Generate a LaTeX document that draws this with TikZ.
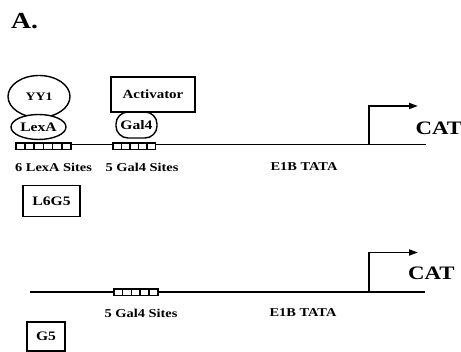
\documentclass[tikz,border=0pt]{standalone}
\usepackage{fontspec}
\setmainfont[FakeStretch=1.2]{Liberation Serif}
\usetikzlibrary{arrows.meta,shapes.geometric}
\begin{document}
\begin{tikzpicture}[x=1pt,y=-1pt,
  dna/.style={line width=1.8pt},
  sitebox/.style={draw,line width=1.5pt,fill=white,minimum height=6.5pt,inner sep=0pt},
  lbl/.style={font=\bfseries\fontsize{12}{14}\selectfont,inner sep=0pt},
  bigl/.style={font=\bfseries\fontsize{19}{22}\selectfont,inner sep=0pt},
  prot/.style={draw,line width=1.4pt,fill=white,inner sep=0pt},
  protl/.style={font=\bfseries\fontsize{13}{15}\selectfont,inner sep=0pt},
  promo/.style={line width=1.8pt,-{Triangle[length=9pt,width=6pt]}},
  namebox/.style={draw,line width=1.4pt,font=\bfseries\fontsize{13}{15}\selectfont,inner sep=0pt}]
\useasboundingbox (0,0) rectangle (461,352);
\node[font=\bfseries\fontsize{23}{26}\selectfont,anchor=west,inner sep=0pt] (title) at (11,21) {A.};
% construct 1
\coordinate (l1s) at (15,144.5);
\coordinate (l1e) at (426,144.5);
\draw[dna] (l1s) -- (l1e);
\foreach \i in {0,...,5}{
  \node[sitebox,minimum width=9.2pt,anchor=west] (lx\i) at ({15+9.2*\i},146.5) {};
}
\foreach \i in {0,...,4}{
  \node[sitebox,minimum width=8.5pt,anchor=west] (ga\i) at ({112+8.5*\i},146.5) {};
}
\node[prot,ellipse,minimum width=62pt,minimum height=42pt] (yy1) at (39,96.5) {};
\node[protl,font=\bfseries\fontsize{11.5}{13}\selectfont] at (yy1) {YY1};
\node[prot,ellipse,minimum width=55pt,minimum height=25pt,protl] (lexa) at (38.5,127) {LexA};
\node[prot,rectangle,rounded corners=12pt,minimum width=41pt,minimum height=26pt,protl] (gal4) at (136.5,125) {Gal4};
\node[prot,rectangle,minimum width=84pt,minimum height=35pt,font=\bfseries\fontsize{12.5}{14}\selectfont] (act) at (153,94.5) {Activator};
\coordinate (p1) at (369,144.5);
\coordinate (t1) at (418,106);
\draw[promo] (p1) |- (t1);
\node[bigl,anchor=west] (cat1) at (415.5,128) {CAT};
\node[lbl] (s1) at (53.5,167) {6 LexA Sites};
\node[lbl] (s2) at (142,167) {5 Gal4 Sites};
\node[lbl] (tata1) at (304,167) {E1B TATA};
\node[namebox,minimum width=57pt,minimum height=31pt] (l6g5) at (51.5,201) {L6G5};
% construct 2
\coordinate (l2s) at (30,292);
\coordinate (l2e) at (425,292);
\draw[dna] (l2s) -- (l2e);
\foreach \i in {0,...,4}{
  \node[sitebox,minimum width=8.8pt,anchor=west] (gb\i) at ({113+8.8*\i},292.5) {};
}
\coordinate (p2) at (369,292);
\coordinate (t2) at (418,252.5);
\draw[promo] (p2) |- (t2);
\node[bigl,anchor=west] (cat2) at (408,273) {CAT};
\node[lbl] (s3) at (141,313) {5 Gal4 Sites};
\node[lbl] (tata2) at (303,313) {E1B TATA};
\node[namebox,minimum width=38pt,minimum height=29pt] (g5) at (46,336.5) {G5};
\end{tikzpicture}
\end{document}
